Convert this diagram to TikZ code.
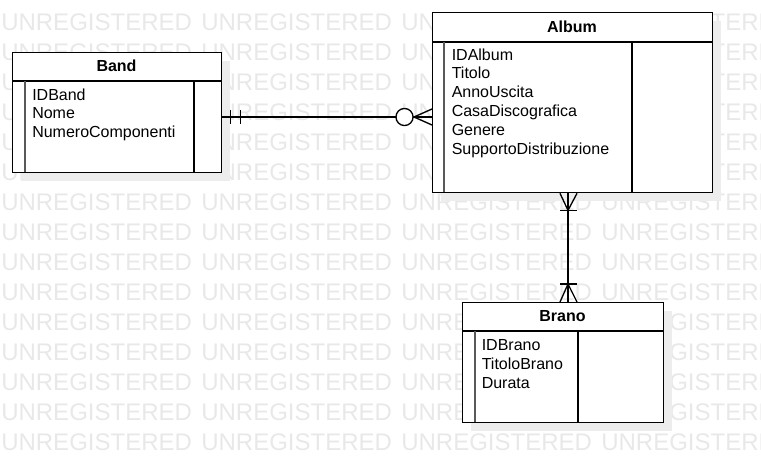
\documentclass[tikz,border=0pt]{standalone}
\usepackage{fontspec}
\setmainfont{Liberation Sans}
\usetikzlibrary{calc,shadows}
\tikzset{
  entity/.style={draw, fill=white, line width=1pt, inner sep=0pt, anchor=north west,
    drop shadow={shadow xshift=6pt, shadow yshift=-6pt, fill=black!7, opacity=1}},
  sepline/.style={line width=1pt},
  keyline/.style={line width=1.6pt, black!65},
  etitle/.style={anchor=base, inner sep=0pt, font=\fontsize{12}{14}\selectfont\bfseries},
  attr/.style={anchor=base west, inner sep=0pt, font=\fontsize{12}{14}\selectfont},
  wmark/.style={anchor=base west, inner sep=0pt, text=black!9, font=\fontsize{18}{20}\selectfont},
  rel/.style={line width=1pt},
}
\begin{document}
\begin{tikzpicture}[x=0.75pt,y=-0.75pt]
  \useasboundingbox (0,0) rectangle (761,472);
  % watermark
  \foreach \r in {0,...,14}
    \foreach \c in {0,...,3}
      \node[wmark] (wm-\r-\c) at ({1+200*\c},{30+30*\r}) {UNREGISTERED};

  % Band
  \node[entity, minimum width=156.75pt, minimum height=90pt] (band) at (12,52) {};
  \draw[sepline] (band.west |- 0,81) -- (band.east |- 0,81);
  \draw[keyline] (25,81) -- (25,172);
  \draw[sepline] (194,81) -- (194,172);
  \node[etitle] (bandtitle) at (116.5,71) {Band};
  \foreach \a [count=\i from 0] in {IDBand,Nome,NumeroComponenti}
    \node[attr] (bandattr\i) at (32,{100+18.9*\i}) {\a};

  % Album
  \node[entity, minimum width=210pt, minimum height=135pt] (album) at (432,12) {};
  \draw[sepline] (album.west |- 0,42) -- (album.east |- 0,42);
  \draw[keyline] (444,42) -- (444,192);
  \draw[sepline] (632,42) -- (632,192);
  \node[etitle] (albumtitle) at (572,32) {Album};
  \foreach \a [count=\i from 0] in {IDAlbum,Titolo,AnnoUscita,CasaDiscografica,Genere,SupportoDistribuzione}
    \node[attr] (albumattr\i) at (451.5,{60+18.8*\i}) {\a};

  % Brano
  \node[entity, minimum width=150.75pt, minimum height=90pt] (brano) at (462,302) {};
  \draw[sepline] (brano.west |- 0,331) -- (brano.east |- 0,331);
  \draw[keyline] (475,331) -- (475,422);
  \draw[sepline] (578,331) -- (578,422);
  \node[etitle] (branotitle) at (562.5,321) {Brano};
  \foreach \a [count=\i from 0] in {IDBrano,TitoloBrano,Durata}
    \node[attr] (branoattr\i) at (481.5,{350+19*\i}) {\a};

  % Band -- Album (one and only one / zero or many)
  \coordinate (bandend) at (band.east |- 0,117);
  \coordinate (albumend) at (album.west |- 0,117);
  \draw[rel] (bandend) -- (albumend);
  \draw[rel] ([shift={(8,-7)}]bandend) -- ++(0,14);
  \draw[rel] ([shift={(18,-7)}]bandend) -- ++(0,14);
  \draw[rel] ([shift={(0,-8)}]albumend) -- ([shift={(-18,0)}]albumend) -- ([shift={(0,8)}]albumend);
  \draw[rel, fill=white] ([shift={(-27.5,0)}]albumend) circle [radius=6.4pt];

  % Album -- Brano (one or many / one or many)
  \coordinate (albumbot) at (album.south -| 568,0);
  \coordinate (branotop) at (brano.north -| 568,0);
  \draw[rel] (albumbot) -- (branotop);
  \draw[rel] ([shift={(-8,0)}]albumbot) -- ([shift={(0,17)}]albumbot) -- ([shift={(9,0)}]albumbot);
  \draw[rel] ([shift={(-8,17)}]albumbot) -- ++(17,0);
  \draw[rel] ([shift={(-8,0)}]branotop) -- ([shift={(0,-18)}]branotop) -- ([shift={(9,0)}]branotop);
  \draw[rel] ([shift={(-8,-18)}]branotop) -- ++(17,0);
\end{tikzpicture}
\end{document}
